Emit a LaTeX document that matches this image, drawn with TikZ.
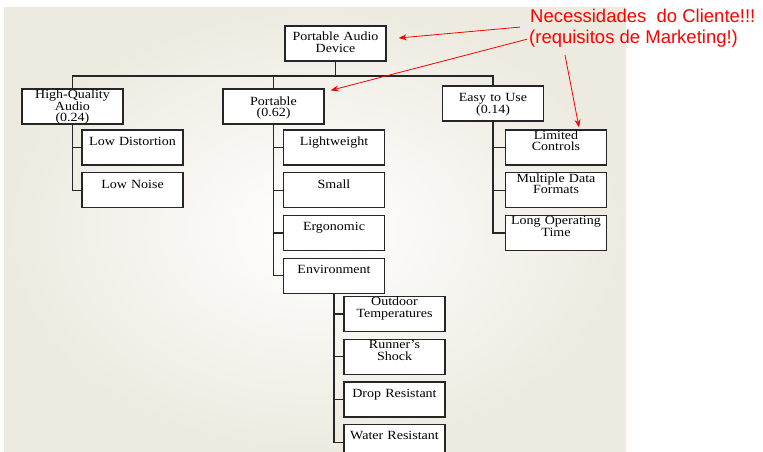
\documentclass[tikz,border=0pt]{standalone}
\usepackage{fontspec}
\newfontfamily\boxfont{Liberation Serif}[FakeStretch=1.12]
\newfontfamily\notefont{Liberation Sans}
\usetikzlibrary{positioning,arrows.meta}
\definecolor{panel}{HTML}{EDEAE0}
\definecolor{notered}{HTML}{FF0000}
\tikzset{
  blk/.style={draw=black!85, line width=1.2pt, fill=white, inner sep=0pt, text width=101pt,
    minimum height=35pt, align=center, font=\boxfont\fontsize{12.5}{11.5}\selectfont},
  one/.style={blk, text height=15.3pt, text depth=19.7pt},
  two/.style={blk, text height=9.3pt, text depth=25.7pt},
  link/.style={line width=1.2pt, draw=black!85},
  note/.style={text=notered, inner sep=0pt, font=\notefont\fontsize{18.5}{21}\selectfont},
  notearrow/.style={draw=notered, line width=0.8pt, -{Stealth[length=8pt,width=6pt]}}
}

\begin{document}
\begin{tikzpicture}[x=1pt, y=-1pt]
\useasboundingbox (0,0) rectangle (763,452);
\shade[inner color=white, outer color=panel] (4,8) rectangle (626,452);

% top of the tree
\node[blk, text height=14.7pt, text depth=20.3pt] (root) at (335.5,43.5) {Portable Audio\\Device};
\node[blk, text height=9.7pt, text depth=25.3pt] (hq) at (72.5,106.5) {High-Quality\\Audio\\(0.24)};
\node[blk, text height=16.3pt, text depth=18.7pt] (pt) at (273.5,106.5) {Portable\\(0.62)};
\node[blk, text height=15.7pt, text depth=19.3pt] (eu) at (493,103.5) {Easy to Use\\(0.14)};
\coordinate (bus) at (0,76);

% second level
\node[one] (ld) at (132.5,147.5) {Low Distortion};
\node[one, below=6.5pt of ld] (ln) {Low Noise};
\node[one] (lw) at (334,147.5) {Lightweight};
\node[one, below=6.5pt of lw] (sm) {Small};
\node[one, below=6.5pt of sm] (er) {Ergonomic};
\node[one, below=6.5pt of er] (en) {Environment};
\node[two] (lc) at (556,147.5) {Limited\\Controls};
\node[two, below=6.5pt of lc] (md) {Multiple Data\\Formats};
\node[two, below=6.5pt of md] (lo) {Long Operating\\Time};

% under environment
\node[two] (od) at (394.5,314) {Outdoor\\Temperatures};
\node[two, below=6.5pt of od] (rs) {Runner’s\\Shock};
\node[one, below=6.5pt of rs] (dr) {Drop Resistant};
\node[one, below=6.5pt of dr] (wr) {Water Resistant};

% tree lines
\draw[link] (root.south) -- (root.south |- bus);
\draw[link] (hq.north) -- (hq.north |- bus) -- (eu.north |- bus) -- (eu.north);
\draw[link] (pt.north) -- (pt.north |- bus);
\draw[link] (hq.south) |- (ln.west);
\draw[link] (hq.south |- ld.west) -- (ld.west);
\draw[link] (pt.south) |- (en.west);
\foreach \c in {lw,sm,er} \draw[link] (pt.south |- \c.west) -- (\c.west);
\draw[link] (eu.south) |- (lo.west);
\foreach \c in {lc,md} \draw[link] (eu.south |- \c.west) -- (\c.west);
\draw[link] (en.south) |- (wr.west);
\foreach \c in {od,rs,dr} \draw[link] (en.south |- \c.west) -- (\c.west);

% red notes
\node[note, anchor=base west] (need1) at (530,22.7) {Necessidades\ \ do Cliente!!!};
\node[note, anchor=base west] (need2) at (529,44) {(requisitos de Marketing!)};
\draw[notearrow] ([xshift=-10pt,yshift=-4pt]need1.south west) -- ([xshift=12pt,yshift=5.5pt]root.east);
\draw[notearrow] ([xshift=-2pt]need2.west) -- ([xshift=6pt,yshift=-2pt]pt.north east);
\draw[notearrow] ([xshift=36pt,yshift=-7pt]need2.south west) -- ([xshift=23pt,yshift=2pt]lc.north);
\end{tikzpicture}
\end{document}
